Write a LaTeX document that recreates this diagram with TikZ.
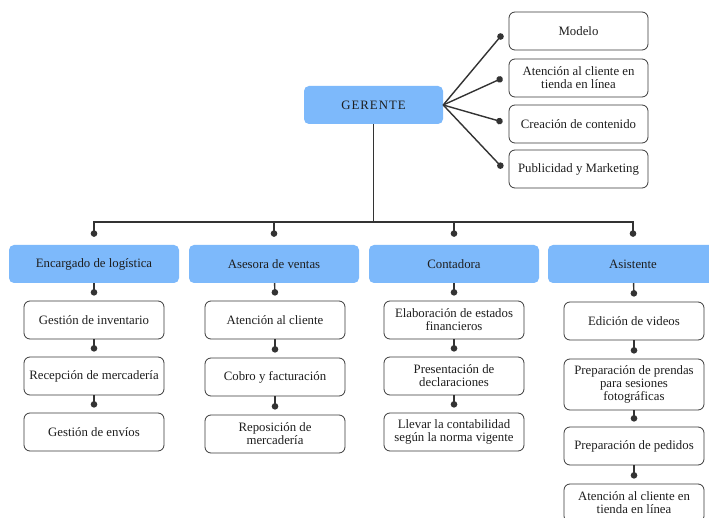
\documentclass[tikz,border=0pt]{standalone}
\usepackage{fontspec}
\setmainfont{Liberation Serif}
\usetikzlibrary{arrows.meta}
\definecolor{bg}{HTML}{FFFFFF}
\definecolor{head}{HTML}{7DB9FB}
\definecolor{ink}{HTML}{1E1E1E}
\definecolor{edge}{HTML}{3A3A3A}
\definecolor{sig}{HTML}{333333}

\begin{document}
\begin{tikzpicture}[x=1pt,y=-1pt,font=\fontsize{12.8}{13.2}\selectfont,
  role/.style={fill=head,rounded corners=5pt,align=center,text=ink,minimum width=170pt,minimum height=38pt,inner sep=2pt},
  task/.style={draw=edge,fill=white,line width=0.8pt,rounded corners=6pt,align=center,text=ink,minimum width=140pt,minimum height=38pt,inner sep=2pt},
  link/.style={-{Circle[length=6.5pt]},line width=1.4pt,sig},
  bar/.style={line width=1.4pt,sig}]
  \useasboundingbox (0,0) rectangle (709,518);
  \fill[bg] (0,0) rectangle (709,518);

  % ===== top =====
  \node[role,minimum width=139pt] (ger) at (373.5,105) {\addfontfeatures{LetterSpace=8}GERENTE};
  \node[task,minimum width=139pt] (mod) at (578.5,31) {Modelo};
  \node[task,minimum width=139pt] (web) at (578.5,78) {Atención al cliente en\\tienda en línea};
  \node[task,minimum width=139pt] (cont) at (578.5,124) {Creación de contenido};
  \node[task,minimum width=139pt] (pub) at (578.5,169) {Publicidad y Marketing};
  \draw[link] (ger.east) -- ([xshift=-6pt,yshift=-3pt]mod.west);
  \draw[link] (ger.east) -- ([xshift=-6pt]web.west);
  \draw[link] (ger.east) -- ([xshift=-6pt,yshift=2pt]cont.west);
  \draw[link] (ger.east) -- ([xshift=-6pt,yshift=1pt]pub.west);

  % ===== areas =====
  \node[role] (log) at (94,264) {Encargado de logística};
  \node[role] (ven) at (274,264) {Asesora de ventas};
  \node[role] (cnt) at (454,264) {Contadora};
  \node[role] (asi) at (633,264) {Asistente};
  \coordinate (bus) at (373.5,222);
  \draw[bar] (ger.south) -- (bus);
  \foreach \n in {log,ven,cnt,asi}
    \draw[link] (bus) -| ([yshift=8pt]\n.north);

  % ===== logistica =====
  \node[task] (inv) at (94,320) {Gestión de inventario};
  \node[task] (rec) at (94,376) {Recepción de mercadería};
  \node[task] (env) at (94,432) {Gestión de envíos};
  \draw[link] (log) -- ([yshift=5pt]inv.north);
  \draw[link] (inv) -- ([yshift=5pt]rec.north);
  \draw[link] (rec) -- ([yshift=5pt]env.north);

  % ===== ventas =====
  \node[task] (ate) at (275,320) {Atención al cliente};
  \node[task] (cob) at (275,377) {Cobro y facturación};
  \node[task] (rep) at (275,434) {Reposición de\\mercadería};
  \draw[link] (ven) -- ([yshift=5pt]ate.north);
  \draw[link] (ate) -- ([yshift=5pt]cob.north);
  \draw[link] (cob) -- ([yshift=5pt]rep.north);

  % ===== contabilidad =====
  \node[task] (est) at (454,320) {Elaboración de estados\\financieros};
  \node[task] (dec) at (454,376) {Presentación de\\declaraciones};
  \node[task] (nor) at (454,432) {Llevar la contabilidad\\según la norma vigente};
  \draw[link] (cnt) -- ([yshift=5pt]est.north);
  \draw[link] (est) -- ([yshift=5pt]dec.north);
  \draw[link] (dec) -- ([yshift=5pt]nor.north);

  % ===== asistente =====
  \node[task] (vid) at (634,321) {Edición de videos};
  \node[task,minimum height=51pt] (pre) at (634,384.5) {Preparación de prendas\\para sesiones\\fotográficas};
  \node[task] (ped) at (634,446) {Preparación de pedidos};
  \node[task] (lin) at (634,503) {Atención al cliente en\\tienda en línea};
  \draw[link] (asi) -- ([yshift=5pt]vid.north);
  \draw[link] (vid) -- ([yshift=5pt]pre.north);
  \draw[link] (pre) -- ([yshift=5pt]ped.north);
  \draw[link] (ped) -- ([yshift=5pt]lin.north);
\end{tikzpicture}
\end{document}
